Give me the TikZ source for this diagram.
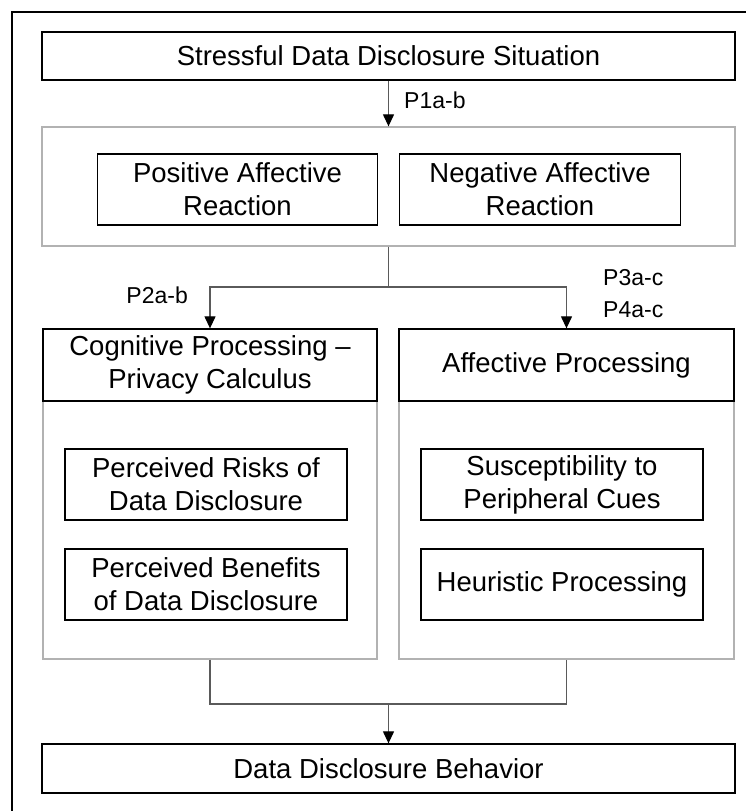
\documentclass[tikz,border=0pt]{standalone}
\usepackage{fontspec}
\setmainfont{Liberation Sans}
\usetikzlibrary{arrows.meta}
\definecolor{groupgray}{RGB}{178,178,178}
\definecolor{linegray}{RGB}{90,90,90}

\begin{document}
\begin{tikzpicture}[x=1pt,y=-1pt,
        box/.style={draw=black,line width=1.3pt,align=center,inner sep=0pt,font=\fontsize{27.5}{33}\selectfont},
        group/.style={draw=groupgray,line width=1.3pt,inner sep=0pt},
        conn/.style={draw=linegray,line width=1.2pt},
        arr/.style={conn,-{Triangle[length=12pt,width=11pt,color=black]}},
        lbl/.style={font=\fontsize{23}{27}\selectfont,inner sep=0pt,anchor=west}]
    \useasboundingbox (0,0) rectangle (746,811);
    \draw [line width=1.8pt] (12,12) rectangle (770,830);

    % stress and affective reaction
    \node[group,minimum width=693pt,minimum height=119pt] (affect) at (388.5,186.5) {};
    \node[box,minimum width=693pt,minimum height=48pt] (situation) at (388.5,56) {Stressful Data Disclosure Situation};
    \node[box,minimum width=280pt,minimum height=71pt] (positive) at (237.5,189.5) {Positive Affective\\Reaction};
    \node[box,minimum width=281pt,minimum height=71pt] (negative) at (540,189.5) {Negative Affective\\Reaction};

    % processing routes
    \node[group,minimum width=334pt,minimum height=258pt] (cogbox) at (210,530) {};
    \node[group,minimum width=335pt,minimum height=258pt] (affbox) at (566.5,530) {};
    \node[box,minimum width=334pt,minimum height=72pt] (coghead) at (210,365) {Cognitive Processing –\\Privacy Calculus};
    \node[box,minimum width=335pt,minimum height=72pt] (affhead) at (566.5,365) {Affective Processing};
    \node[box,minimum width=282pt,minimum height=71pt] (risks) at (206,484.5) {Perceived Risks of\\Data Disclosure};
    \node[box,minimum width=282pt,minimum height=71pt] (benefits) at (206,584.5) {Perceived Benefits\\of Data Disclosure};
    \node[box,minimum width=282pt,minimum height=71pt] (cues) at (562,484.5) {Susceptibility to\\Peripheral Cues};
    \node[box,minimum width=282pt,minimum height=71pt] (heuristic) at (562,584.5) {Heuristic Processing};

    \node[box,minimum width=693pt,minimum height=49pt] (behavior) at (388.5,768.5) {Data Disclosure Behavior};

    % connectors
    \coordinate (split) at (388.5,287);
    \coordinate (merge) at (388.5,704);
    \draw[arr] (situation) -- (affect);
    \draw[conn] (affect) -- (split);
    \draw[arr] (split) -| (coghead);
    \draw[arr] (split) -| (affhead);
    \draw[conn] (cogbox) |- (merge) -| (affbox);
    \draw[arr] (merge) -- (behavior);

    \node[lbl] (p1) at (404,100) {P1a-b};
    \node[lbl,anchor=east] (p2) at (188,295) {P2a-b};
    \node[lbl] (p3) at (603,278) {P3a-c};
    \node[lbl] (p4) at (603,310) {P4a-c};
\end{tikzpicture}
\end{document}
